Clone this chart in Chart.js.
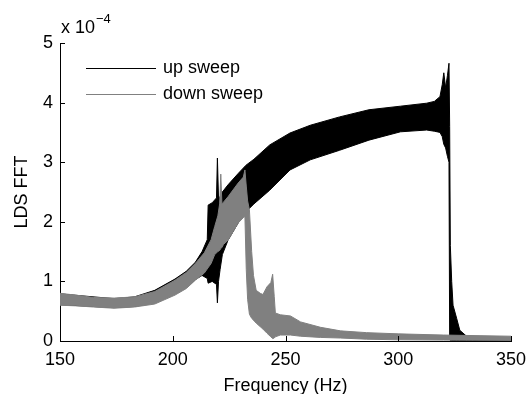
<!DOCTYPE html>
<html lang="en">
<head>
<meta charset="UTF-8">
<title>LDS FFT</title>
<script src="https://cdn.jsdelivr.net/npm/chart.js"></script>
<style>
  html, body { margin: 0; padding: 0; background: #fff; }
  #chart { display: block; }
</style>
</head>
<body>
<canvas id="chart" width="529" height="394"></canvas>
<script>
// amplitudes are in units of 1e-4; each sweep is drawn as the band
// between its lower and upper envelope
const upFreq = [150, 174, 183, 192, 201, 206, 210, 213, 215.3, 215.7, 217.5, 219.4, 219.8, 220.3, 221, 222, 224.5, 229, 232.5, 236, 243, 252, 261, 274, 287, 301, 312.6, 316, 318.5, 319.5, 320.2, 321, 321.8, 322.5, 322.8, 323.1, 323.7, 324.3, 325.9, 327.3, 330.3, 333, 340, 350];
const upLow = [0.61, 0.56, 0.58, 0.64, 0.79, 0.90, 1.03, 1.10, 1.05, 0.97, 1.00, 0.95, 0.64, 1.00, 1.20, 1.45, 1.69, 1.98, 2.17, 2.30, 2.53, 2.87, 3.04, 3.20, 3.37, 3.51, 3.54, 3.52, 3.50, 3.43, 3.30, 3.24, 3.10, 3.00, 0.02, 0.01, 0.01, 0.01, 0.01, 0.01, 0.01, 0.01, 0.0, 0.0];
const upHigh = [0.79, 0.71, 0.74, 0.85, 1.04, 1.17, 1.32, 1.50, 1.70, 2.28, 2.32, 2.40, 3.07, 2.40, 2.42, 2.50, 2.62, 2.81, 2.95, 3.05, 3.29, 3.49, 3.62, 3.76, 3.88, 3.94, 3.99, 4.02, 4.10, 4.30, 4.50, 4.25, 4.45, 4.66, 3.60, 1.60, 1.00, 0.60, 0.38, 0.18, 0.08, 0.05, 0.03, 0.02];

const downFreq = [150, 157, 165, 174, 183, 192, 201, 206, 210, 214, 217, 218.6, 220, 220.8, 221.3, 221.8, 222.5, 224.5, 229, 231.3, 232, 232.6, 233.2, 234, 235, 235.8, 237, 238.8, 240, 241.8, 243.5, 244.3, 245, 245.5, 247.7, 252.2, 256.7, 265.5, 274.4, 286, 300, 320, 350];
const downLow = [0.60, 0.59, 0.57, 0.55, 0.57, 0.62, 0.77, 0.88, 1.02, 1.14, 1.30, 1.45, 1.50, 1.52, 1.55, 1.57, 1.62, 1.69, 1.98, 2.07, 2.09, 1.20, 0.70, 0.45, 0.38, 0.35, 0.30, 0.24, 0.20, 0.13, 0.07, 0.04, 0.05, 0.07, 0.10, 0.10, 0.08, 0.06, 0.05, 0.03, 0.02, 0.015, 0.01];
const downHigh = [0.80, 0.77, 0.73, 0.72, 0.74, 0.83, 1.02, 1.15, 1.30, 1.48, 1.70, 1.92, 2.10, 2.30, 2.80, 2.30, 2.33, 2.42, 2.65, 2.75, 2.87, 2.60, 2.35, 2.20, 1.50, 1.10, 0.85, 0.80, 0.78, 0.91, 0.98, 1.12, 0.75, 0.47, 0.44, 0.42, 0.32, 0.23, 0.17, 0.14, 0.12, 0.10, 0.08];

const xTicks = [150, 200, 250, 300, 350];
const yTicks = [0, 1, 2, 3, 4, 5];
const seriesNames = ['up sweep', 'down sweep'];

const BLACK = '#000000';
const GREY = '#808080';
const FONT = 'Helvetica, Arial, "Liberation Sans", sans-serif';

function pts(xs, ys) {
  return xs.map((x, i) => ({ x: x, y: ys[i] }));
}

function band(name, xs, ys, color, fill) {
  return {
    label: name,
    data: pts(xs, ys),
    borderColor: color,
    backgroundColor: color,
    borderWidth: 1,
    pointRadius: 0,
    tension: 0,
    fill: fill
  };
}

// inward ticks, legend inside the axes and the x 10^-4 multiplier
const extras = {
  id: 'extras',
  afterDraw(chart) {
    const ctx = chart.ctx;
    const xs = chart.scales.x, ys = chart.scales.y;
    ctx.save();
    ctx.strokeStyle = '#000';
    ctx.lineWidth = 1;
    ctx.beginPath();
    xTicks.forEach(v => {
      const px = Math.round(xs.getPixelForValue(v)) + 0.5;
      ctx.moveTo(px, ys.bottom);
      ctx.lineTo(px, ys.bottom - 5);
    });
    yTicks.forEach(v => {
      const py = Math.round(ys.getPixelForValue(v)) + 0.5;
      ctx.moveTo(xs.left, py);
      ctx.lineTo(xs.left + 5, py);
    });
    ctx.stroke();

    const colors = [BLACK, GREY];
    ctx.font = '18px ' + FONT;
    ctx.textBaseline = 'middle';
    ctx.textAlign = 'left';
    seriesNames.forEach((name, i) => {
      const y = 68.5 + i * 26;
      ctx.strokeStyle = colors[i];
      ctx.beginPath();
      ctx.moveTo(86, y);
      ctx.lineTo(156, y);
      ctx.stroke();
      ctx.fillStyle = '#000';
      ctx.fillText(name, 163, y);
    });

    ctx.textBaseline = 'alphabetic';
    ctx.fillStyle = '#000';
    ctx.font = '18px ' + FONT;
    ctx.fillText('x 10', 61, 33);
    ctx.font = '13px ' + FONT;
    ctx.fillText('\u22124', 96, 23);
    ctx.restore();
  }
};

const tickFont = { family: FONT, size: 18 };

new Chart(document.getElementById('chart'), {
  type: 'line',
  data: {
    datasets: [
      band('down sweep low', downFreq, downLow, GREY, false),
      band('down sweep', downFreq, downHigh, GREY, 0),
      band('up sweep low', upFreq, upLow, BLACK, false),
      band('up sweep', upFreq, upHigh, BLACK, 2)
    ]
  },
  options: {
    responsive: false,
    animation: false,
    devicePixelRatio: 1,
    layout: { padding: { left: 0, top: 43, right: 18, bottom: 0 } },
    plugins: { legend: { display: false }, tooltip: { enabled: false } },
    scales: {
      x: {
        type: 'linear',
        min: 150,
        max: 350,
        afterBuildTicks: s => { s.ticks = xTicks.map(v => ({ value: v })); },
        afterFit: s => { s.height = 53; s.paddingLeft = 0; s.paddingRight = 0; },
        grid: { display: false, drawTicks: false },
        border: { display: true, color: '#000', width: 1 },
        ticks: { color: '#000', font: tickFont, padding: 8, maxRotation: 0 },
        title: { display: true, text: 'Frequency (Hz)', color: '#000', font: tickFont, padding: { top: 0, bottom: -2.5 } }
      },
      y: {
        type: 'linear',
        min: 0,
        max: 5,
        afterBuildTicks: s => { s.ticks = yTicks.map(v => ({ value: v })); },
        afterFit: s => { s.width = 60; s.paddingTop = 0; s.paddingBottom = 0; },
        grid: { display: false, drawTicks: false },
        border: { display: true, color: '#000', width: 1 },
        ticks: { color: '#000', font: tickFont, padding: 7 },
        title: { display: true, text: 'LDS FFT', color: '#000', font: tickFont, padding: { top: 11, bottom: 0 } }
      }
    }
  },
  plugins: [extras]
});
</script>
</body>
</html>
